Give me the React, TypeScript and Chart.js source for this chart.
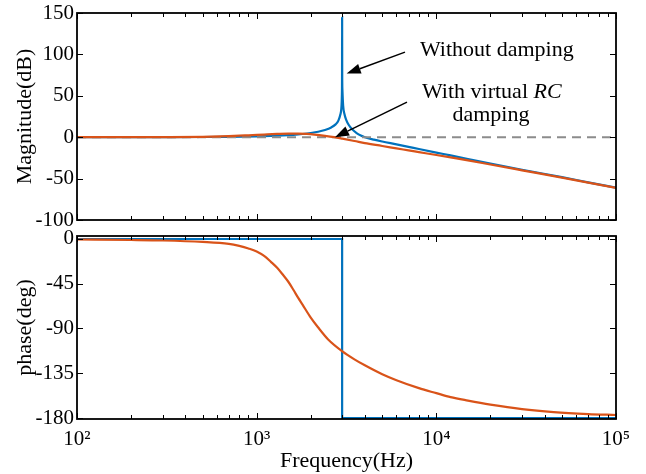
import React, { useEffect, useRef } from "react";
import { Chart, registerables } from "chart.js";

Chart.register(...registerables);

const FONT = "'Liberation Serif', 'Times New Roman', serif";
const BLUE = "#0072BD";
const ORANGE = "#D95319";
const GRAY = "#8c8c8c";

// ---- data ----
const freqRange = [100, 100000];
const decadeTicks = [100, 1000, 10000, 100000];
const decadeLabels = ["10²", "10³", "10⁴", "10⁵"];

const magRange = [-100, 150];
const magTicks = [-100, -50, 0, 50, 100, 150];
const phaseRange = [-181, 3];
const phaseTicks = [-180, -135, -90, -45, 0];

// Magnitude, without damping (blue)
const magFreqNoDamp = [
  100, 200, 300, 500, 700, 1000, 1200, 1400, 1600, 1800, 2000, 2200, 2400, 2600,
  2750, 2850, 2920, 2960, 2980, 2987, 2990, 2993, 3000, 3030, 3080, 3150, 3250,
  3400, 3600, 3800, 4000, 4500, 5000, 6000, 7000, 8000, 10000, 12000, 15000,
  20000, 30000, 50000, 70000, 100000,
];
const magNoDamp = [
  0, 0.04, 0.09, 0.24, 0.48, 1.0, 1.5, 2.1, 2.9, 3.9, 5.1, 6.6, 8.7, 11.8,
  15.5, 20, 27, 35, 50, 75, 145, 75, 58, 38, 28, 21, 15,
  9.5, 5, 2, 0, -3, -5.2, -8.6, -11.6, -14.3, -18.6, -22, -26.3,
  -31.8, -39.3, -48.3, -54.5, -61,
];

// Magnitude, with virtual RC damping (orange)
const magFreqRC = [
  100, 200, 300, 500, 700, 900, 1100, 1300, 1500, 1700, 1900, 2100, 2400, 2700,
  3000, 3500, 4000, 5000, 6000, 7000, 8000, 10000, 12000, 15000, 20000, 30000,
  50000, 70000, 100000,
];
const magRC = [
  0, 0.05, 0.12, 0.5, 1.3, 2.3, 3.2, 3.9, 4.3, 4.3, 3.9, 3.1, 1.6, 0,
  -1.8, -4.6, -7.2, -10.6, -13.5, -15.9, -18, -21.5, -24.4, -28, -33, -40,
  -48.8, -54.8, -61.3,
];

// 0 dB reference (dashed)
const refFreq = [100, 100000];
const refMag = [0, 0];

// Phase, without damping (blue)
const phaseFreqNoDamp = [100, 2990, 2990, 100000];
const phaseNoDamp = [0, 0, -180, -180];

// Phase, with virtual RC damping (orange)
const phaseFreqRC = [
  100, 200, 300, 500, 700, 800, 900, 1000, 1100, 1200, 1300, 1400, 1500, 1600,
  1700, 1800, 2000, 2200, 2500, 3000, 3500, 4000, 5000, 6000, 8000, 10000,
  12000, 15000, 20000, 30000, 45000, 70000, 100000,
];
const phaseRC = [
  -0.5, -1, -1.5, -3, -5, -7, -9.5, -12.5, -17, -23, -29, -36, -43, -51,
  -59, -66, -79, -89, -101, -113, -121, -127, -136, -142, -150, -155,
  -159, -162.5, -166.5, -171, -174, -176, -177,
];

// Annotations (frequency, dB)
const arrowTailFreq = [6693, 6866];
const arrowTailDb = [102.7, 42.3];
const arrowHeadFreq = [3170, 2729];
const arrowHeadDb = [76.9, 0];

const pts = (xs: number[], ys: number[]) => xs.map((x, i) => ({ x, y: ys[i] }));

const boxTicksPlugin = {
  id: "boxTicks",
  afterDraw(chart: any, _args: any, opts: any) {
    const { ctx, chartArea: a, scales } = chart;
    const xs = scales.x;
    const ys = scales.y;
    ctx.save();
    ctx.strokeStyle = "#000";
    ctx.lineWidth = 1;
    ctx.beginPath();
    for (let e = 2; e <= 5; e++) {
      for (let m = 1; m <= 9; m++) {
        const f = m * Math.pow(10, e);
        if (f > freqRange[1]) break;
        const px = Math.round(xs.getPixelForValue(f)) + 0.5;
        const len = m === 1 ? 6 : 4;
        ctx.moveTo(px, a.bottom);
        ctx.lineTo(px, a.bottom - len);
        ctx.moveTo(px, a.top);
        ctx.lineTo(px, a.top + len);
      }
    }
    for (const v of opts.yTicks as number[]) {
      const py = Math.round(ys.getPixelForValue(v)) + 0.5;
      ctx.moveTo(a.left, py);
      ctx.lineTo(a.left + 6, py);
      ctx.moveTo(a.right, py);
      ctx.lineTo(a.right - 6, py);
    }
    ctx.stroke();
    ctx.lineWidth = 1.8;
    ctx.strokeRect(a.left, a.top, a.right - a.left, a.bottom - a.top);
    ctx.restore();
  },
};

const notesPlugin = {
  id: "notes",
  afterDraw(chart: any) {
    const { ctx, scales } = chart;
    const xs = scales.x;
    const ys = scales.y;
    ctx.save();
    ctx.strokeStyle = "#000";
    ctx.fillStyle = "#000";
    ctx.lineWidth = 1.5;
    for (let i = 0; i < arrowTailFreq.length; i++) {
      const x0 = xs.getPixelForValue(arrowTailFreq[i]);
      const y0 = ys.getPixelForValue(arrowTailDb[i]);
      const x1 = xs.getPixelForValue(arrowHeadFreq[i]);
      const y1 = ys.getPixelForValue(arrowHeadDb[i]);
      const ang = Math.atan2(y1 - y0, x1 - x0);
      const headLen = 14;
      const headW = 5;
      const bx = x1 - headLen * Math.cos(ang);
      const by = y1 - headLen * Math.sin(ang);
      ctx.beginPath();
      ctx.moveTo(x0, y0);
      ctx.lineTo(bx, by);
      ctx.stroke();
      ctx.beginPath();
      ctx.moveTo(x1, y1);
      ctx.lineTo(bx + headW * Math.sin(ang), by - headW * Math.cos(ang));
      ctx.lineTo(bx - headW * Math.sin(ang), by + headW * Math.cos(ang));
      ctx.closePath();
      ctx.fill();
    }
    ctx.textBaseline = "middle";
    ctx.font = `22px ${FONT}`;
    ctx.textAlign = "left";
    ctx.fillText("Without damping", xs.getPixelForValue(8110), ys.getPixelForValue(105));
    const tx = xs.getPixelForValue(8318);
    const ty = ys.getPixelForValue(54.3);
    const part1 = "With virtual ";
    ctx.fillText(part1, tx, ty);
    const w1 = ctx.measureText(part1).width;
    ctx.font = `italic 22px ${FONT}`;
    ctx.fillText("RC", tx + w1, ty);
    ctx.font = `22px ${FONT}`;
    ctx.textAlign = "center";
    ctx.fillText("damping", xs.getPixelForValue(20140), ys.getPixelForValue(27));
    ctx.restore();
  },
};

const yAxis = (range: number[], ticks: number[], title: string) => ({
  min: range[0],
  max: range[1],
  afterBuildTicks: (s: any) => {
    s.ticks = ticks.map((v) => ({ value: v }));
  },
  afterFit: (s: any) => {
    s.width = 77;
    s.paddingTop = 0;
    s.paddingBottom = 0;
  },
  grid: { display: false, drawTicks: false },
  border: { display: false },
  ticks: { color: "#000", font: { family: FONT, size: 21 }, padding: 3 },
  title: {
    display: true,
    text: title,
    color: "#000",
    font: { family: FONT, size: 22 },
    padding: { top: 12, bottom: 0 },
  },
});

export default function App() {
  const topRef = useRef<HTMLCanvasElement>(null);
  const botRef = useRef<HTMLCanvasElement>(null);

  useEffect(() => {
    const top = new Chart(topRef.current!, {
      type: "line",
      data: {
        datasets: [
          {
            data: pts(magFreqRC, magRC),
            borderColor: ORANGE,
            borderWidth: 2.2,
            cubicInterpolationMode: "monotone",
          },
          {
            data: pts(refFreq, refMag),
            borderColor: GRAY,
            borderWidth: 2,
            borderDash: [9, 6],
          },
          {
            data: pts(magFreqNoDamp, magNoDamp),
            borderColor: BLUE,
            borderWidth: 2.2,
            cubicInterpolationMode: "monotone",
          },
        ],
      },
      options: {
        responsive: false,
        animation: false,
        devicePixelRatio: 1,
        layout: { padding: { left: 0, right: 30, top: 13, bottom: 8 } },
        elements: { point: { radius: 0 } },
        plugins: {
          legend: { display: false },
          tooltip: { enabled: false },
          boxTicks: { yTicks: magTicks },
        } as any,
        scales: {
          x: { type: "logarithmic", min: freqRange[0], max: freqRange[1], display: false },
          y: yAxis(magRange, magTicks, "Magnitude(dB)") as any,
        },
      },
      plugins: [boxTicksPlugin, notesPlugin],
    });

    const bot = new Chart(botRef.current!, {
      type: "line",
      data: {
        datasets: [
          {
            data: pts(phaseFreqRC, phaseRC),
            borderColor: ORANGE,
            borderWidth: 2.2,
            cubicInterpolationMode: "monotone",
          },
          {
            data: pts(phaseFreqNoDamp, phaseNoDamp),
            borderColor: BLUE,
            borderWidth: 2.2,
            tension: 0,
          },
        ],
      },
      options: {
        responsive: false,
        animation: false,
        devicePixelRatio: 1,
        layout: { padding: { left: 0, right: 30, top: 8, bottom: 0 } },
        elements: { point: { radius: 0 } },
        plugins: {
          legend: { display: false },
          tooltip: { enabled: false },
          boxTicks: { yTicks: phaseTicks },
        } as any,
        scales: {
          x: {
            type: "logarithmic",
            min: freqRange[0],
            max: freqRange[1],
            afterBuildTicks: (s: any) => {
              s.ticks = decadeTicks.map((v) => ({ value: v }));
            },
            afterFit: (s: any) => {
              s.height = 55;
              s.paddingLeft = 0;
              s.paddingRight = 0;
            },
            grid: { display: false, drawTicks: false },
            border: { display: false },
            ticks: {
              color: "#000",
              font: { family: FONT, size: 21 },
              padding: 8,
              autoSkip: false,
              maxRotation: 0,
              callback: (_v: any, i: number) => decadeLabels[i],
            },
            title: {
              display: true,
              text: "Frequency(Hz)",
              color: "#000",
              font: { family: FONT, size: 22 },
              padding: { top: 0, bottom: 0 },
            },
          } as any,
          y: yAxis(phaseRange, phaseTicks, "phase(deg)") as any,
        },
      },
      plugins: [boxTicksPlugin],
    });

    return () => {
      top.destroy();
      bot.destroy();
    };
  }, []);

  return (
    <div style={{ position: "absolute", left: 0, top: 0, width: 646, height: 474, background: "#fff" }}>
      <canvas
        ref={topRef}
        width={646}
        height={228}
        style={{ position: "absolute", left: 0, top: 0, width: 646, height: 228 }}
      />
      <canvas
        ref={botRef}
        width={646}
        height={246}
        style={{ position: "absolute", left: 0, top: 228, width: 646, height: 246 }}
      />
    </div>
  );
}
